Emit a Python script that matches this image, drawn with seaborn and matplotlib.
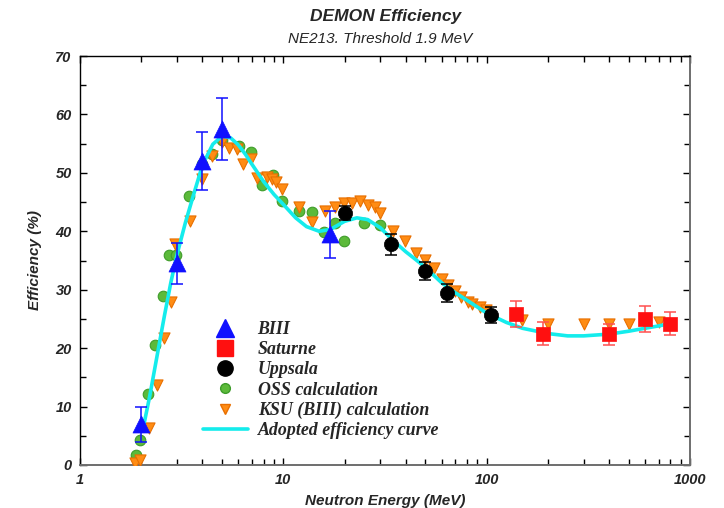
import numpy as np
import pandas as pd
import matplotlib
matplotlib.use("Agg")
import matplotlib.pyplot as plt
import seaborn as sns
from matplotlib.lines import Line2D
from matplotlib.legend_handler import HandlerLine2D
from matplotlib.ticker import FixedLocator, FixedFormatter, NullFormatter

# ---- measured efficiencies -------------------------------------------------
biii_e = [2.0, 3.0, 4.0, 5.0, 17.0]
biii_eff = [7.0, 34.5, 52.0, 57.5, 39.5]
biii_err = [3.0, 3.5, 5.0, 5.3, 4.0]

saturne_e = [140.0, 190.0, 400.0, 600.0, 800.0]
saturne_eff = [25.8, 22.5, 22.4, 25.0, 24.2]
saturne_err = [2.2, 2.0, 1.8, 2.2, 2.0]

uppsala_e = [20.0, 34.0, 50.0, 64.0, 105.0]
uppsala_eff = [43.1, 37.8, 33.2, 29.4, 25.7]
uppsala_err = [1.2, 1.8, 1.6, 1.5, 1.4]

# ---- calculations -----------------------------------------------------------
oss_e = [1.88, 1.97, 2.17, 2.35, 2.55, 2.75, 2.95, 3.44, 3.96, 4.47, 5.0,
         6.05, 6.95, 7.85, 8.9, 9.9, 11.9, 13.8, 15.9, 17.9, 19.8, 24.9, 30.0]
oss_eff = [1.7, 4.3, 12.2, 20.5, 28.9, 35.9, 35.9, 46.1, 51.6, 53.3, 55.6,
           54.6, 53.5, 47.9, 49.6, 45.1, 43.4, 43.3, 39.8, 41.4, 38.4, 41.5, 41.1]

ksu_e = [1.86, 1.97, 2.18, 2.4, 2.6, 2.8, 2.93, 3.47, 3.96, 4.47, 4.97,
         5.4, 5.9, 6.35, 6.95, 7.45, 8.3, 8.75, 9.25, 9.8, 11.9, 13.8, 16.0,
         17.9, 19.8, 21.8, 23.7, 26.1, 28.2, 29.8, 34.6, 39.5, 44.8, 50.0,
         55.0, 60.0, 64.5, 69.6, 75.0, 81.0, 85.0, 92.5, 99.6, 150.0, 200.0,
         300.0, 400.0, 500.0, 600.0, 700.0, 800.0]
ksu_eff = [0.3, 0.9, 6.3, 13.7, 21.7, 27.9, 37.9, 41.8, 48.9, 52.8, 55.3,
           54.2, 54.0, 51.6, 52.4, 49.2, 49.3, 48.9, 48.4, 47.3, 44.1, 41.6, 43.4,
           44.2, 44.9, 44.8, 45.2, 44.5, 44.1, 43.1, 40.0, 38.3, 36.3, 35.1,
           33.8, 31.9, 30.8, 29.7, 28.8, 27.9, 27.5, 27.0, 26.6, 24.8, 24.2,
           24.1, 24.1, 24.1, 24.2, 24.5, 24.2]

# ---- adopted efficiency curve ----------------------------------------------
curve_e = [2.05, 2.2, 2.4, 2.6, 2.8, 3.0, 3.3, 3.6, 4.0, 4.5, 5.0, 5.5, 6.0,
           6.5, 7.0, 8.0, 9.0, 10.0, 11.5, 13.0, 15.0, 17.0, 20.0, 23.0, 26.0,
           30.0, 35.0, 40.0, 45.0, 50.0, 60.0, 70.0, 80.0, 100.0, 125.0, 150.0,
           200.0, 250.0, 300.0, 400.0, 500.0, 600.0, 700.0, 800.0]
curve_eff = [6.5, 11.7, 18.9, 25.5, 31.3, 36.0, 41.5, 46.0, 51.3, 54.9, 56.3,
             56.0, 54.8, 53.2, 51.5, 48.5, 46.3, 44.6, 42.3, 40.8, 40.0, 40.3,
             41.7, 42.3, 42.0, 40.6, 38.3, 36.5, 35.1, 33.8, 31.2, 29.5, 28.2,
             26.0, 24.4, 23.4, 22.5, 22.1, 22.1, 22.4, 22.9, 23.4, 23.8, 24.2]

x_ticks = [1, 10, 100, 1000]
x_tick_labels = ["1", "10", "100", "1000"]
y_ticks = [0, 10, 20, 30, 40, 50, 60, 70]

SANS = "Liberation Sans"
SERIF = "Liberation Serif"

sns.set_style("ticks")
plt.rcParams["font.family"] = [SANS, "DejaVu Sans"]

fig = plt.figure(figsize=(7.24, 5.08), dpi=100)
ax = fig.add_axes([80 / 724, 43 / 508, 610 / 724, 409 / 508])

BLUE = "#1010ff"
RED = "#ff1010"
GREEN = "#5cba3a"
ORANGE = "#ff8c14"
CYAN = "#14ecec"

# calculations
sns.scatterplot(x=oss_e, y=oss_eff, ax=ax, marker="o", s=58, color=GREEN,
                edgecolor="#3e9c2a", linewidth=0.8, zorder=3)
sns.scatterplot(x=ksu_e, y=ksu_eff, ax=ax, marker="v", s=64, color=ORANGE,
                edgecolor="#e86f00", linewidth=0.8, zorder=4)

# adopted curve
sns.lineplot(x=curve_e, y=curve_eff, ax=ax, color=CYAN, linewidth=2.6,
             sort=False, estimator=None, zorder=5)

# measurements with error bars
ax.errorbar(biii_e, biii_eff, yerr=biii_err, fmt="none", ecolor=BLUE,
            elinewidth=1.1, capsize=4.5, capthick=1.1, zorder=6)
sns.scatterplot(x=biii_e, y=biii_eff, ax=ax, marker="^", s=150, color=BLUE,
                edgecolor=BLUE, linewidth=0.5, zorder=7)

ax.errorbar(saturne_e, saturne_eff, yerr=saturne_err, fmt="none",
            ecolor="#ff5050", elinewidth=1.1, capsize=4.5, capthick=1.1, zorder=6)
sns.scatterplot(x=saturne_e, y=saturne_eff, ax=ax, marker="s", s=110,
                color=RED, edgecolor=RED, linewidth=0.5, zorder=7)

ax.errorbar(uppsala_e, uppsala_eff, yerr=uppsala_err, fmt="none",
            ecolor="black", elinewidth=1.1, capsize=4.5, capthick=1.1, zorder=6)
sns.scatterplot(x=uppsala_e, y=uppsala_eff, ax=ax, marker="o", s=105,
                color="black", edgecolor="black", linewidth=0.5, zorder=7)

# axes
ax.set_xscale("log")
ax.set_xlim(1, 1000)
ax.set_ylim(0, 70)
ax.xaxis.set_major_locator(FixedLocator(x_ticks))
ax.xaxis.set_major_formatter(FixedFormatter(x_tick_labels))
ax.xaxis.set_minor_locator(FixedLocator(
    [m * d for d in (1, 10, 100) for m in range(2, 10)]))
ax.xaxis.set_minor_formatter(NullFormatter())
ax.yaxis.set_major_locator(FixedLocator(y_ticks))
ax.yaxis.set_minor_locator(FixedLocator(np.arange(5, 70, 10)))

ax.tick_params(which="both", direction="in", top=True, right=True,
               color="black", width=1.0)
ax.tick_params(which="major", length=5, pad=6)
ax.tick_params(which="minor", length=4)
for lbl in ax.get_xticklabels() + ax.get_yticklabels():
    lbl.set_fontfamily(SANS)
    lbl.set_fontstyle("italic")
    lbl.set_fontweight("bold")
    lbl.set_fontsize(10.5)

for side in ("left", "top"):
    ax.spines[side].set_color("black")
    ax.spines[side].set_linewidth(1.0)
for side in ("right", "bottom"):
    ax.spines[side].set_color("#6e6e6e")
    ax.spines[side].set_linewidth(1.4)

ax.set_xlabel("Neutron Energy (MeV)", fontfamily=SANS, fontstyle="italic",
              fontweight="bold", fontsize=11, labelpad=5)
ax.set_ylabel("Efficiency (%)", fontfamily=SANS, fontstyle="italic",
              fontweight="bold", fontsize=11, labelpad=10)

fig.text(0.532, 0.967, "DEMON Efficiency", ha="center", va="center",
         fontfamily=SANS, fontstyle="italic", fontweight="bold", fontsize=12.5)
fig.text(0.525, 0.924, "NE213. Threshold 1.9 MeV", ha="center", va="center",
         fontfamily=SANS, fontstyle="italic", fontsize=11)


class EndMarkerHandler(HandlerLine2D):
    """Draw the legend marker at the right end of the handle."""

    def get_xdata(self, legend, xdescent, ydescent, width, height, fontsize):
        xdata, _ = super().get_xdata(legend, xdescent, ydescent, width,
                                     height, fontsize)
        return xdata, np.array([width - xdescent - 0.2 * fontsize])


handles = [
    Line2D([], [], linestyle="none", marker="^", markersize=13,
           color=BLUE, markeredgecolor=BLUE),
    Line2D([], [], linestyle="none", marker="s", markersize=11,
           color=RED, markeredgecolor=RED),
    Line2D([], [], linestyle="none", marker="o", markersize=11,
           color="black"),
    Line2D([], [], linestyle="none", marker="o", markersize=7,
           color=GREEN, markeredgecolor="#3e9c2a"),
    Line2D([], [], linestyle="none", marker="v", markersize=7,
           color=ORANGE, markeredgecolor="#e86f00"),
    Line2D([], [], color=CYAN, linewidth=2.6),
]
labels = ["BIII", "Saturne", "Uppsala", "OSS calculation",
          "KSU (BIII) calculation", "Adopted efficiency curve"]
leg = ax.legend(handles, labels, loc="upper left",
                bbox_to_anchor=(123 / 610, 144 / 409), frameon=False,
                borderpad=0, borderaxespad=0, handlelength=2.5,
                handletextpad=0.55, labelspacing=0.18, numpoints=1,
                handler_map={Line2D: EndMarkerHandler()},
                prop={"family": SERIF, "style": "italic", "weight": "bold",
                      "size": 12.9})

fig.savefig("out.png", dpi=100)
